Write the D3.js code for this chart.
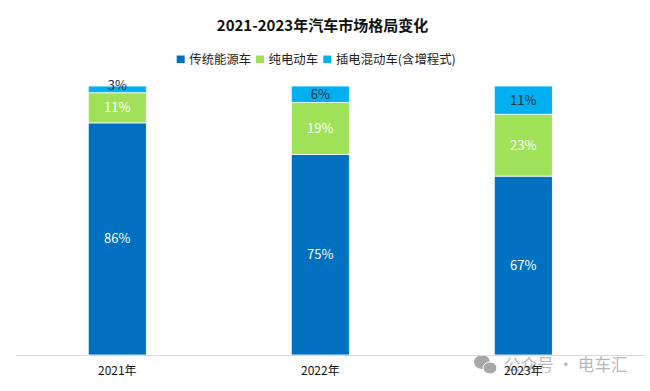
<!DOCTYPE html>
<html>
<head>
<meta charset="utf-8">
<script src="https://cdn.jsdelivr.net/npm/d3@7"></script>
<style>
html, body { margin: 0; padding: 0; background: #fff; }
text { font-family: "Noto Sans CJK SC", sans-serif; }
</style>
</head>
<body>
<svg id="chart" width="650" height="391"></svg>
<script>
var years = ["2021年", "2022年", "2023年"];
var seriesNames = ["传统能源车", "纯电动车", "插电混动车(含增程式)"];
// shares, they round to the printed labels
var traditional = [86.3, 74.6, 66.5];
var pureElectric = [11.2, 19.3, 23];
var pluginHybrid = [2.5, 6.1, 10.5];
var colors = ["#0070c0", "#a0e257", "#00b0f0"];
var labelColors = ["#ffffff", "#ffffff", "#1f2d3d"];

var svg = d3.select("#chart"),
    margin = { top: 86, left: 17.2, right: 623.4, bottom: 355 };

var rows = years.map(function(y, i) {
	return { year: y, s0: traditional[i], s1: pureElectric[i], s2: pluginHybrid[i] };
});

var stack = d3.stack()
	.keys(["s0", "s1", "s2"])
	.offset(d3.stackOffsetExpand);
var layers = stack(rows);

var x = d3.scaleBand()
	.domain(years)
	.range([margin.left, margin.right])
	.paddingInner(0.714)
	.paddingOuter(0.35);

var y = d3.scaleLinear()
	.domain([0, 1])
	.range([margin.bottom, margin.top]);

// title
svg.append("text")
	.attr("x", 322.5)
	.attr("y", 30.5)
	.attr("text-anchor", "middle")
	.attr("font-size", "15px")
	.attr("font-weight", "700")
	.attr("fill", "#111")
	.text("2021-2023年汽车市场格局变化");

// watermark, sits under the axis labels
var mark = svg.append("g").attr("fill", "#a8a8a8");
mark.append("ellipse").attr("cx", 482).attr("cy", 362).attr("rx", 8).attr("ry", 7);
mark.append("ellipse").attr("cx", 490).attr("cy", 368).attr("rx", 7).attr("ry", 6).attr("stroke", "#fff");
svg.append("text")
	.attr("x", 504)
	.attr("y", 371)
	.attr("font-size", "16.6px")
	.attr("fill", "#b8b8b8")
	.text("公众号 · 电车汇");

// bars
var layer = svg.selectAll(".layer")
	.data(layers)
	.enter().append("g")
	.attr("class", "layer");

layer.selectAll("rect")
	.data(function(d) { return d.map(function(p) { return { p: p, key: d.index }; }); })
	.enter().append("rect")
	.attr("x", function(d) { return x(d.p.data.year); })
	.attr("width", x.bandwidth())
	.attr("y", function(d) { return y(d.p[1]); })
	.attr("height", function(d) { return y(d.p[0]) - y(d.p[1]); })
	.attr("fill", function(d) { return colors[d.key]; })
	.attr("stroke", "#fff")
	.attr("stroke-width", 0.8);

// value labels, the thin 3% one pokes out above its segment
layer.selectAll("text")
	.data(function(d) { return d.map(function(p) { return { p: p, key: d.index }; }); })
	.enter().append("text")
	.attr("x", function(d) { return x(d.p.data.year) + x.bandwidth() / 2; })
	.attr("y", function(d) {
		var mid = (y(d.p[0]) + y(d.p[1])) / 2;
		return y(d.p[0]) - y(d.p[1]) < 10 ? mid - 3.5 : mid;
	})
	.attr("dy", "0.35em")
	.attr("text-anchor", "middle")
	.attr("font-size", "13px")
	.attr("fill", function(d) { return labelColors[d.key]; })
	.text(function(d) { return Math.round(d.p.data["s" + d.key]) + "%"; });

// axis, the line runs further right than the last band
var axis = svg.append("g")
	.attr("transform", "translate(0," + margin.bottom + ")")
	.call(d3.axisBottom(x).tickSize(0).tickPadding(11));
axis.select(".domain")
	.attr("d", "M16,0.5H645")
	.attr("stroke", "#d9d9d9");
axis.selectAll("text")
	.attr("font-size", "12px")
	.attr("font-family", '"Noto Sans CJK SC", sans-serif')
	.attr("fill", "#111");

// legend
var legendX = [176.7, 256, 323.3];
var legend = svg.selectAll(".legend")
	.data(seriesNames)
	.enter().append("g")
	.attr("class", "legend")
	.attr("transform", function(d, i) { return "translate(" + legendX[i] + ",55.5)"; });
legend.append("rect")
	.attr("width", 8)
	.attr("height", 7.5)
	.attr("fill", function(d, i) { return colors[i]; });
legend.append("text")
	.attr("x", 12.6)
	.attr("y", 4)
	.attr("dy", "0.35em")
	.attr("font-size", "12.4px")
	.attr("fill", "#222")
	.text(function(d) { return d; });
</script>
</body>
</html>
